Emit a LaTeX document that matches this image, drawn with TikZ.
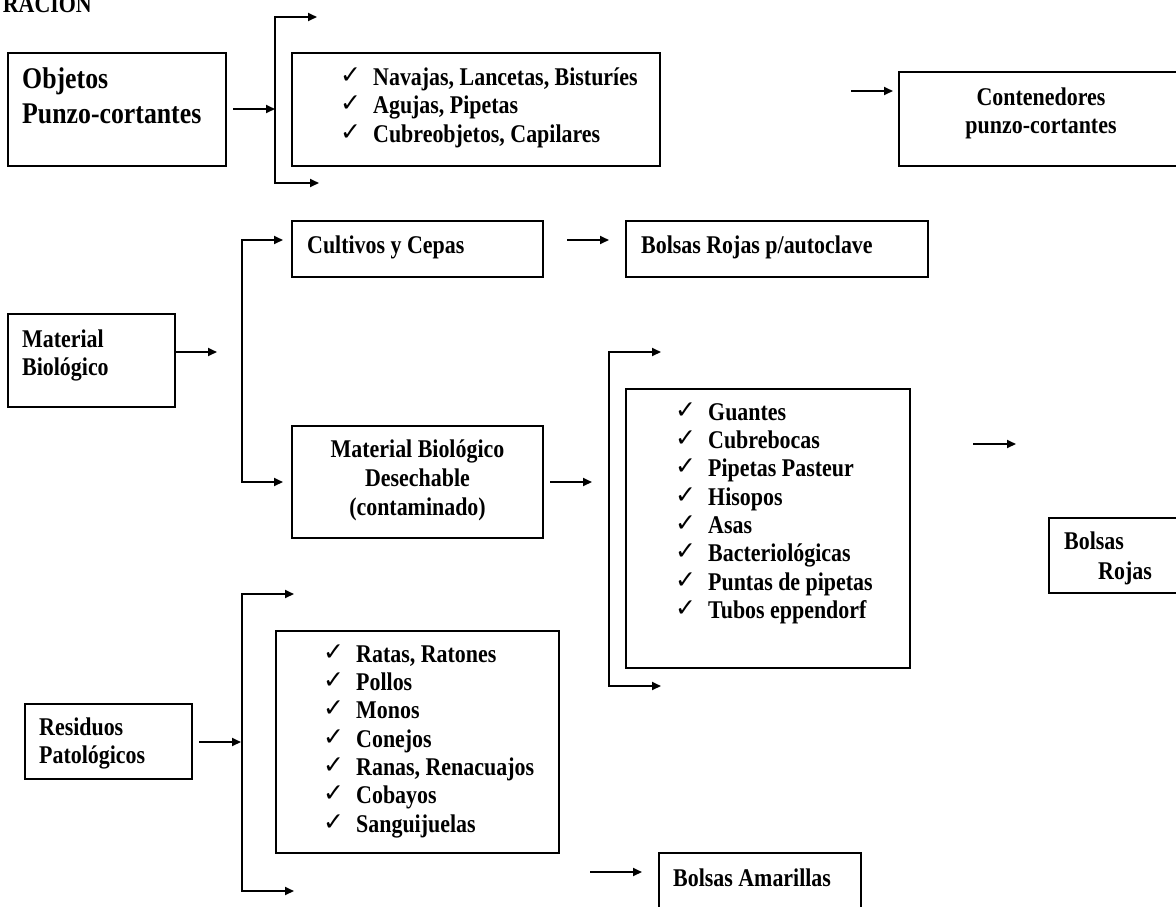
\documentclass[tikz,border=0pt]{standalone}
\usepackage{fontspec}
\newfontfamily\tb{Liberation Serif}[FakeStretch=0.86]
\newfontfamily\ckfont{DejaVu Sans}
\usetikzlibrary{arrows.meta}
\tikzset{
  box/.style={draw=black, line width=1.3pt, inner sep=0pt},
  tip/.tip={Triangle[length=9pt,width=8pt]},
  arr/.style={line width=1.8pt, -tip},
  barr/.style={line width=1.8pt, tip-tip},
  txt/.style={inner sep=0pt, anchor=base west, font=\tb\bfseries\fontsize{25.5}{28}\selectfont},
  ctxt/.style={txt, anchor=base},
  big/.style={txt, font=\tb\bfseries\fontsize{30}{34}\selectfont},
  ck/.style={inner sep=0pt, anchor=base west, font=\ckfont\fontsize{25}{25}\selectfont},
}
\newcommand\pbox[5]{\node[box, minimum width={(#4-#2)*1pt}, minimum height={(#5-#3)*1pt}] (#1) at ({(#2+#4)/2},{(#3+#5)/2}) {};}
\newcommand\litem[4]{\node[ck] (#1c) at ({#2-1},{#3-2}) {✓}; \node[txt] (#1) at ({#2+32},#3) {#4};}
\begin{document}
\begin{tikzpicture}[x=1pt, y=-1pt, line join=miter]
\useasboundingbox[fill=white] (0,0) rectangle (1176,906);

% title fragment
\node[txt, anchor=base east] (title) at (92,12) {RACION};

% boxes
\pbox{obj}{8}{53}{226}{166}
\pbox{nav}{292}{53}{660}{166}
\pbox{cont}{899}{72}{1183}{166}
\pbox{cult}{292}{221}{543}{277}
\pbox{bra}{626}{221}{928}{277}
\pbox{mat}{8}{314}{175}{407}
\pbox{des}{292}{426}{543}{538}
\pbox{gua}{626}{389}{910}{668}
\pbox{roj}{1049}{518}{1190}{593}
\pbox{res}{25}{704}{192}{779}
\pbox{rat}{276}{631}{559}{853}
\pbox{ama}{659}{853}{861}{930}

% texts
\node[big] (objt1) at (22,88) {Objetos};
\node[big] (objt2) at (22,123) {Punzo-cortantes};

\litem{nav1}{341}{85}{Navajas, Lancetas, Bisturíes}
\litem{nav2}{341}{113}{Agujas, Pipetas}
\litem{nav3}{341}{142}{Cubreobjetos, Capilares}

\node[ctxt] (contt1) at (1041,105) {Contenedores};
\node[ctxt] (contt2) at (1041,133) {punzo-cortantes};

\node[txt] (cultt) at (307,253) {Cultivos y Cepas};
\node[txt] (brat) at (641,253) {Bolsas Rojas p/autoclave};

\node[txt] (matt1) at (22,347) {Material};
\node[txt] (matt2) at (22,375) {Biológico};

\node[ctxt] (dest1) at (417.5,457) {Material Biológico};
\node[ctxt] (dest2) at (417.5,486) {Desechable};
\node[ctxt] (dest3) at (417.5,515) {(contaminado)};

\litem{gua1}{676}{420}{Guantes}
\litem{gua2}{676}{448.3}{Cubrebocas}
\litem{gua3}{676}{476.6}{Pipetas Pasteur}
\litem{gua4}{676}{505}{Hisopos}
\litem{gua5}{676}{533.3}{Asas}
\litem{gua6}{676}{561.6}{Bacteriológicas}
\litem{gua7}{676}{590}{Puntas de pipetas}
\litem{gua8}{676}{618}{Tubos eppendorf}

\node[txt] (rojt1) at (1064,549) {Bolsas};
\node[txt] (rojt2) at (1098,579) {Rojas};

\node[txt] (rest1) at (39,735) {Residuos};
\node[txt] (rest2) at (39,763) {Patológicos};

\litem{rat1}{324}{662}{Ratas, Ratones}
\litem{rat2}{324}{690.3}{Pollos}
\litem{rat3}{324}{718.6}{Monos}
\litem{rat4}{324}{747}{Conejos}
\litem{rat5}{324}{775.3}{Ranas, Renacuajos}
\litem{rat6}{324}{803.6}{Cobayos}
\litem{rat7}{324}{832}{Sanguijuelas}

\node[txt] (amat) at (673,886) {Bolsas Amarillas};

% connectors: Objetos punzo-cortantes
\coordinate (o1s) at (233,109);
\coordinate (o1e) at (275,109);
\draw[arr] (o1s) -- (o1e);
\coordinate (b1t) at (275,17);
\coordinate (b1b) at (275,183);
\coordinate (b1te) at (317,17);
\coordinate (b1be) at (319,183);
\draw[barr] (b1te) -- (b1t) -- (b1b) -- (b1be);
\coordinate (c1s) at (851,91);
\coordinate (c1e) at (893,91);
\draw[arr] (c1s) -- (c1e);

% Material biologico
\coordinate (m1s) at (175,352);
\coordinate (m1e) at (217,352);
\draw[arr] (m1s) -- (m1e);
\coordinate (b2t) at (242,240);
\coordinate (b2b) at (242,482);
\coordinate (b2te) at (283,240);
\coordinate (b2be) at (283,482);
\draw[barr] (b2te) -- (b2t) -- (b2b) -- (b2be);
\coordinate (cu1s) at (567,240);
\coordinate (cu1e) at (609,240);
\draw[arr] (cu1s) -- (cu1e);
\coordinate (d1s) at (550,482);
\coordinate (d1e) at (592,482);
\draw[arr] (d1s) -- (d1e);
\coordinate (b3t) at (609,352);
\coordinate (b3b) at (609,686);
\coordinate (b3te) at (661,352);
\coordinate (b3be) at (661,686);
\draw[barr] (b3te) -- (b3t) -- (b3b) -- (b3be);
\coordinate (g1s) at (973,444);
\coordinate (g1e) at (1016,444);
\draw[arr] (g1s) -- (g1e);

% Residuos patologicos
\coordinate (r1s) at (199,742);
\coordinate (r1e) at (241,742);
\draw[arr] (r1s) -- (r1e);
\coordinate (b4t) at (242,594);
\coordinate (b4b) at (242,891);
\coordinate (b4te) at (294,594);
\coordinate (b4be) at (294,891);
\draw[barr] (b4te) -- (b4t) -- (b4b) -- (b4be);
\coordinate (a1s) at (590,872);
\coordinate (a1e) at (642,872);
\draw[arr] (a1s) -- (a1e);
\end{tikzpicture}
\end{document}
